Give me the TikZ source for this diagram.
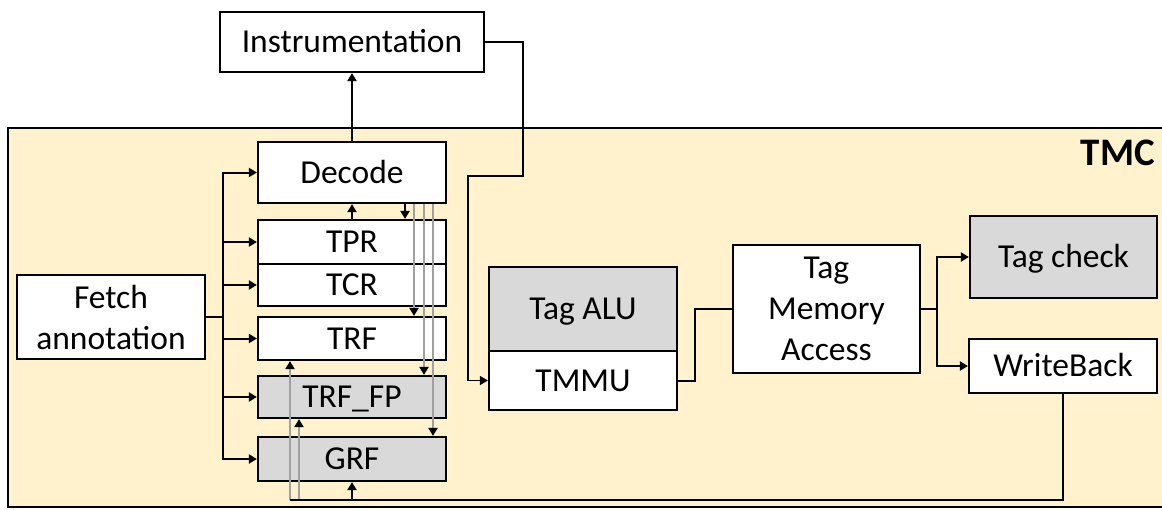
\documentclass[tikz,border=0pt]{standalone}
\usepackage{fontspec}
\setmainfont{Carlito}
\usetikzlibrary{arrows.meta}
\definecolor{tmcfill}{HTML}{FFF2CC}
\definecolor{boxgray}{HTML}{D9D9D9}
\definecolor{linegray}{HTML}{A0A0A0}
\begin{document}
\begin{tikzpicture}[x=1pt,y=-1pt,
  base/.style={draw=black, line width=2.2pt, fill=white, inner sep=0pt, font=\fontsize{33.5}{41}\selectfont},
  one/.style={base, text height=21.6pt, text depth=0pt},
  two/.style={base, align=center},
  gbox/.style={fill=boxgray},
  conn/.style={line width=2pt},
  arr/.style={conn, -{Triangle[length=8pt,width=9pt]}},
  garr/.style={line width=2pt, draw=linegray, -{Triangle[length=8pt,width=9pt,color=black]}}
]
\useasboundingbox (0,0) rectangle (1162,509);
% TMC container
\fill[tmcfill] (8,128) rectangle (1162,507);
\draw[line width=2.3pt] (1164,128) -- (8,128) -- (8,507) -- (1164,507);
\node[font=\bfseries\fontsize{39}{45}\selectfont, anchor=base east, inner sep=0pt] (tmc) at (1155,165) {TMC};

% nodes
\node[one, minimum width=264pt, minimum height=60pt] (instr) at (352,42) {Instrumentation};
\node[one, minimum width=188pt, minimum height=61pt] (decode) at (352,172.5) {Decode};
\node[one, minimum width=188pt, minimum height=44pt] (tpr) at (352,242) {TPR};
\node[one, minimum width=188pt, minimum height=42pt] (tcr) at (352,285) {TCR};
\node[one, minimum width=188pt, minimum height=43pt] (trf) at (352,338.5) {TRF};
\node[one, gbox, minimum width=188pt, minimum height=42pt] (trffp) at (352,397) {TRF\_FP};
\node[one, gbox, minimum width=188pt, minimum height=44pt] (grf) at (352,459) {GRF};
\node[two, minimum width=188pt, minimum height=84pt] (fetch) at (111,317) {Fetch\\annotation};
\node[one, gbox, minimum width=188pt, minimum height=84pt] (alu) at (583,309) {Tag ALU};
\node[one, minimum width=188pt, minimum height=59pt] (tmmu) at (583,380.5) {TMMU};
\node[two, minimum width=187pt, minimum height=128pt] (tma) at (826.5,309) {Tag\\Memory\\Access};
\node[one, gbox, minimum width=187pt, minimum height=82pt] (tagcheck) at (1063.5,257) {Tag check};
\node[one, minimum width=188pt, minimum height=54pt] (wb) at (1063,366) {WriteBack};

% fetch bus
\coordinate (bus) at (223,317);
\draw[conn] (fetch.east) -- (bus);
\foreach \n in {decode,tpr,tcr,trf,trffp,grf} \draw[arr] (bus) |- (\n.west);

% decode links
\draw[arr] (decode.north) -- (instr.south);
\draw[arr] (tpr.north) -- (decode.south);
\draw[arr] ([xshift=53pt]decode.south) -- ([xshift=53pt]tpr.north);
\draw[garr] ([xshift=62pt]decode.south) -- ([xshift=62pt]trf.north);
\draw[garr] ([xshift=72pt]decode.south) -- ([xshift=72pt]trffp.north);
\draw[garr] ([xshift=81pt]decode.south) -- ([xshift=81pt]grf.north);

% instrumentation to TMMU
\coordinate (i1) at (523,176);
\coordinate (i2) at (468,176);
\draw[arr, line width=1.5pt] (instr.east) -| (i1) -- (i2) |- (tmmu.west);

% TMMU to TMA
\draw[conn] (tmmu.east) -- ++(17,0) |- (tma.west);

% TMA branches
\coordinate (br) at (937,309);
\draw[conn] (tma.east) -- (br);
\draw[arr] (br) |- (tagcheck.west);
\draw[arr] (br) |- (wb.west);

% writeback feedback
\coordinate (fb) at (290,500);
\coordinate (fb2) at (299,500);
\draw[garr] (fb) -- (fb |- trf.south);
\draw[garr] (fb2) -- (fb2 |- trffp.south);
\draw[conn] (wb.south) |- (fb);
\draw[arr] (grf.south |- fb) -- (grf.south);
\end{tikzpicture}
\end{document}
